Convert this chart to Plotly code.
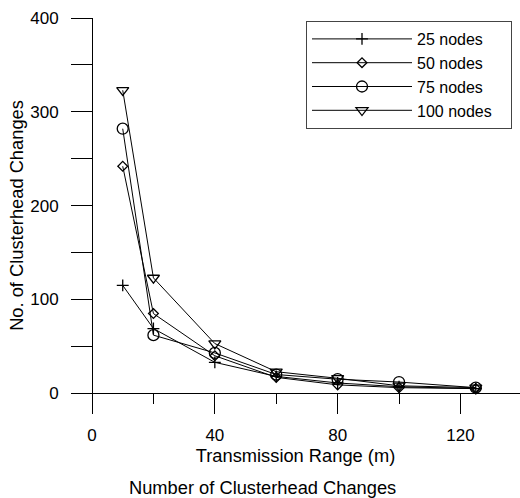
import plotly.graph_objects as go

# Data
ranges_m = [10, 20, 40, 60, 80, 100, 125]
nodes25 = [115, 69, 33, 18, 11, 7, 5]
nodes50 = [242, 85, 40, 17, 9, 6, 5]
nodes75 = [282, 62, 43, 20, 15, 12, 6]
nodes100 = [323, 123, 53, 23, 16, 8, 6]
series_names = ["25 nodes", "50 nodes", "75 nodes", "100 nodes"]

FONT = "Liberation Sans, Arial, sans-serif"
PAD = "\u00a0\u00a0\u00a0"

W, H = 520, 498
ml, mr, mt, mb = 71, 0, 18, 85
xr = [-6.85, 139.4]
yr = [-21, 400]

fig = go.Figure()
series = [nodes25, nodes50, nodes75, nodes100]
symbols = ["cross-thin-open", "diamond-open", "circle-open", "triangle-down-open"]
sizes = [8.5, 7.5, 11, 10.5]
for name, vals, sym, sz in zip(series_names, series, symbols, sizes):
    fig.add_trace(go.Scatter(
        x=ranges_m, y=vals, name=name + PAD, mode="lines+markers",
        line=dict(color="black", width=1),
        marker=dict(symbol=sym, size=sz, color="black",
                    line=dict(color="black", width=1.3)),
    ))

xpos = (0 - yr[0]) / (yr[1] - yr[0])
ypos = (0 - xr[0]) / (xr[1] - xr[0])

fig.update_layout(
    width=W, height=H,
    margin=dict(l=ml, r=mr, t=mt, b=mb),
    paper_bgcolor="white", plot_bgcolor="white",
    font=dict(family=FONT, size=17, color="black"),
    xaxis=dict(
        range=xr, anchor="free", position=xpos,
        showgrid=False, zeroline=False,
        showline=True, linecolor="black", linewidth=1,
        ticks="outside", ticklen=20, tickwidth=1, tickcolor="black",
        tick0=0, dtick=40, ticklabelstandoff=6,
        minor=dict(dtick=20, tick0=0, ticks="outside", ticklen=10,
                   tickwidth=1, tickcolor="black", showgrid=False),
        title=dict(text="Transmission Range (m)", standoff=0,
                   font=dict(family=FONT, size=18.3)),
        tickfont=dict(family=FONT, size=17),
        automargin=False,
    ),
    yaxis=dict(
        range=yr, anchor="free", position=ypos,
        showgrid=False, zeroline=False,
        showline=True, linecolor="black", linewidth=1,
        ticks="outside", ticklen=21, tickwidth=1, tickcolor="black",
        tick0=0, dtick=100, ticklabelstandoff=9,
        minor=dict(dtick=50, tick0=0, ticks="outside", ticklen=21,
                   tickwidth=1, tickcolor="black", showgrid=False),
        title=dict(text="No. of Clusterhead Changes", standoff=0,
                   font=dict(family=FONT, size=18.3)),
        tickfont=dict(family=FONT, size=17),
        automargin=False,
    ),
    legend=dict(
        x=(306 - ml) / (W - ml - mr), y=(H - mb - 21) / (H - mb - mt),
        xanchor="left", yanchor="top",
        bgcolor="white", bordercolor="#444", borderwidth=1,
        font=dict(family=FONT, size=16),
        itemwidth=100, tracegroupgap=0,
    ),
    showlegend=True,
    annotations=[dict(
        text="Number of Clusterhead Changes", xref="paper", yref="paper",
        x=(262 - ml) / (W - ml - mr), y=(H - mb - 487) / (H - mb - mt),
        xanchor="center", yanchor="middle", showarrow=False,
        font=dict(family=FONT, size=18.3),
    )],
)

fig.write_html(
    "out.html",
    config={"displayModeBar": False},
    post_script="document.body.style.margin='0';document.body.style.overflow='hidden';",
)
